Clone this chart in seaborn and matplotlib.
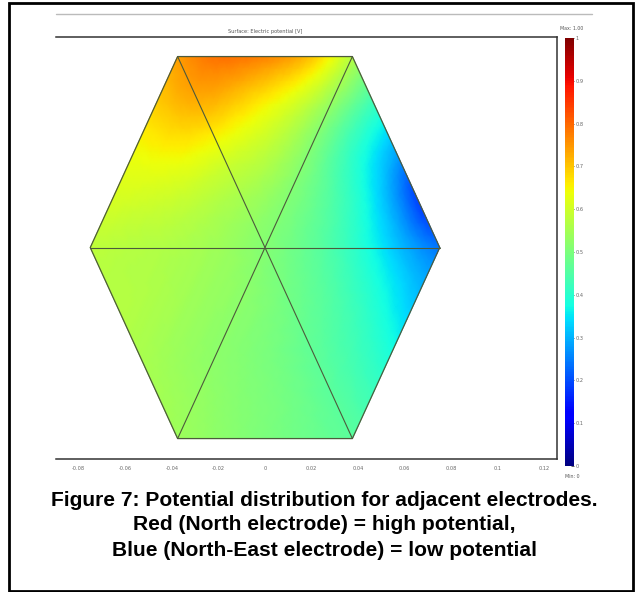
import numpy as np
import matplotlib
matplotlib.use("Agg")
import matplotlib.pyplot as plt
import matplotlib.tri as mtri
from matplotlib.lines import Line2D
from matplotlib.patches import Rectangle
import seaborn as sns

# ---------------- data ----------------
hex_radius = 0.075  # metres, hexagon circumradius
# electric potential [V] sampled on a triangular lattice, rows from top to bottom
potential_row_top4 = [0.74, 0.79, 0.77, 0.71, 0.57]
potential_row_top3 = [0.69, 0.72, 0.68, 0.62, 0.53, 0.42]
potential_row_top2 = [0.64, 0.65, 0.62, 0.58, 0.51, 0.41, 0.29]
potential_row_top1 = [0.61, 0.60, 0.58, 0.55, 0.51, 0.45, 0.35, 0.19]
potential_row_mid = [0.58, 0.57, 0.56, 0.54, 0.51, 0.47, 0.41, 0.32, 0.24]
potential_row_bot1 = [0.57, 0.56, 0.54, 0.52, 0.49, 0.45, 0.39, 0.31]
potential_row_bot2 = [0.56, 0.54, 0.52, 0.50, 0.47, 0.43, 0.37]
potential_row_bot3 = [0.55, 0.53, 0.51, 0.49, 0.46, 0.42]
potential_row_bot4 = [0.54, 0.52, 0.50, 0.48, 0.46]
potential_rows = [potential_row_top4, potential_row_top3, potential_row_top2,
                  potential_row_top1, potential_row_mid, potential_row_bot1,
                  potential_row_bot2, potential_row_bot3, potential_row_bot4]

xtick_values = [-0.08, -0.06, -0.04, -0.02, 0, 0.02, 0.04, 0.06, 0.08, 0.1, 0.12]
xtick_labels = ["-0.08", "-0.06", "-0.04", "-0.02", "0", "0.02", "0.04",
                "0.06", "0.08", "0.1", "0.12"]
cbar_ticks = [0, 0.1, 0.2, 0.3, 0.4, 0.5, 0.6, 0.7, 0.8, 0.9, 1.0]
cbar_labels = ["0", "0.1", "0.2", "0.3", "0.4", "0.5", "0.6", "0.7", "0.8", "0.9", "1"]
v_min, v_max = 0.0, 1.0

title = "Surface: Electric potential [V]"
caption_lines = ["Figure 7: Potential distribution for adjacent electrodes.",
                 "Red (North electrode) = high potential,",
                 "Blue (North-East electrode) = low potential"]

# ---------------- build lattice ----------------
sns.set_style("white")
plt.rcParams['font.family'] = ['DejaVu Sans']

h = hex_radius * np.sqrt(3) / 2
xs, ys, zs = [], [], []
for r, row in enumerate(potential_rows):
    j = 4 - r
    for i, val in enumerate(row):
        xs.append(-hex_radius + abs(j) * hex_radius / 8 + i * hex_radius / 4)
        ys.append(j * h / 4)
        zs.append(val)
xs, ys, zs = np.array(xs), np.array(ys), np.array(zs)

tri = mtri.Triangulation(xs, ys)
refiner = mtri.UniformTriRefiner(tri)
tri_f, z_f = refiner.refine_field(zs, subdiv=3)
z_f = np.clip(z_f, v_min, v_max)

# ---------------- figure ----------------
fig = plt.figure(figsize=(6.35, 5.92), dpi=100)
W, H = 635, 592

def fx(px):
    return px / W

def fy(py):
    return 1 - py / H

ax = fig.add_axes([fx(56), fy(459), fx(557) - fx(56), fy(37) - fy(459)])
tpc = ax.tripcolor(tri_f, z_f, shading='gouraud', cmap='jet', vmin=v_min, vmax=v_max)

# hexagon outline and diagonals
ang = np.deg2rad(np.arange(0, 361, 60))
vx = hex_radius * np.cos(ang)
vy = np.sign(np.round(np.sin(ang), 12)) * h
ax.plot(vx, vy, color='#4d5a3c', lw=0.9, zorder=3)
for k in range(3):
    ax.plot([vx[k], vx[k + 3]], [vy[k], vy[k + 3]], color='#4d5a3c', lw=0.8, zorder=3)

center_px = 265
ax.set_xlim(-(center_px - 56) / 2330, (557 - center_px) / 2330)
ax.set_ylim(-0.0719, 0.0716)
ax.set_xticks(xtick_values)
ax.set_xticklabels(xtick_labels)
ax.set_yticks([])
ax.tick_params(axis='x', length=0, labelsize=3.6, labelcolor='#666666', pad=5)
for side in ['top', 'right', 'bottom']:
    ax.spines[side].set_visible(True)
    ax.spines[side].set_color('#333333')
    ax.spines[side].set_linewidth(1.1)
ax.spines['left'].set_visible(False)

fig.text(fx(265), fy(31), title, ha='center', va='center', fontsize=3.6, color='#555555')

# colorbar
cax = fig.add_axes([fx(565), fy(466), fx(574) - fx(565), fy(38) - fy(466)])
cb = fig.colorbar(tpc, cax=cax, ticks=cbar_ticks)
cb.ax.set_yticklabels(cbar_labels)
cb.outline.set_visible(False)
cax.tick_params(axis='y', direction='in', length=2, width=0.5, labelsize=3.6,
                labelcolor='#666666', color='#222222', pad=1)
fig.text(fx(572), fy(29), "Max: 1.00", ha='center', va='center', fontsize=3.4, color='#555555')
fig.text(fx(572), fy(476), "Min: 0", ha='center', va='center', fontsize=3.4, color='#555555')

# decorative frame lines
fig.add_artist(Line2D([fx(56), fx(592)], [fy(14), fy(14)], color='#bbbbbb', lw=1.0,
                      transform=fig.transFigure))
fig.add_artist(Rectangle((fx(9), fy(591)), fx(633) - fx(9), fy(3) - fy(591),
                         transform=fig.transFigure, fill=False, edgecolor='black', lw=2.0))

# caption
for line, py in zip(caption_lines, [500, 525, 551]):
    fig.text(fx(324), fy(py), line, ha='center', va='center', fontsize=15.1,
             fontweight='bold', family=['Liberation Sans', 'DejaVu Sans'], color='black')

fig.savefig("out.png", dpi=100)
